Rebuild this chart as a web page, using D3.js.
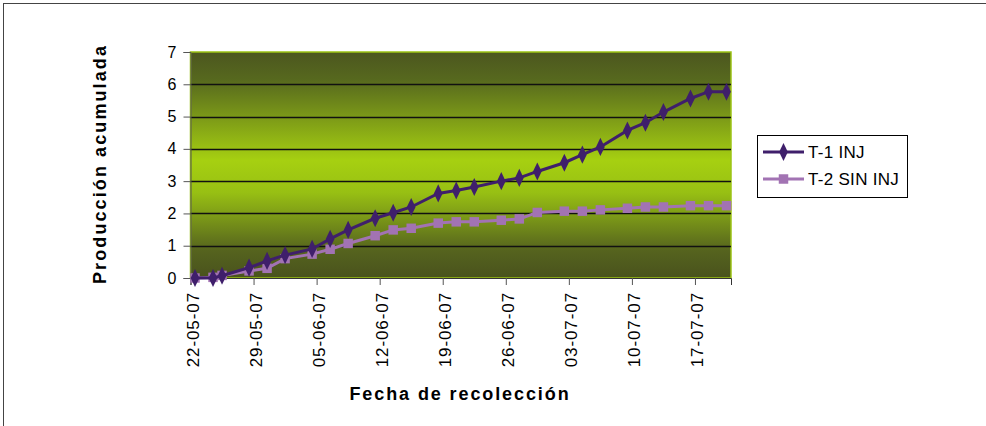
<!DOCTYPE html>
<html lang="es">
<head>
    <meta charset="UTF-8">
    <title>Producción acumulada</title>
    <script src="https://d3js.org/d3.v7.min.js"></script>
    <style>
        body { margin: 0; background: #fff; }
        svg { display: block; font-family: Arial, "Liberation Sans", sans-serif; }
    </style>
</head>
<body>
    <svg width="986" height="426" id="chart"></svg>

    <script>
        // Fechas de recolección
        const fechas = ["2007-05-22", "2007-05-24", "2007-05-25", "2007-05-28", "2007-05-30", "2007-06-01",
            "2007-06-04", "2007-06-06", "2007-06-08", "2007-06-11", "2007-06-13", "2007-06-15",
            "2007-06-18", "2007-06-20", "2007-06-22", "2007-06-25", "2007-06-27", "2007-06-29",
            "2007-07-02", "2007-07-04", "2007-07-06", "2007-07-09", "2007-07-11", "2007-07-13",
            "2007-07-16", "2007-07-18", "2007-07-20"];

        // Producción acumulada por tratamiento
        const t1Inj = [0, 0, 0.07, 0.32, 0.53, 0.71, 0.9, 1.21, 1.49, 1.85, 2.02, 2.2, 2.62, 2.71, 2.82,
            3.0, 3.1, 3.3, 3.57, 3.82, 4.06, 4.57, 4.81, 5.14, 5.56, 5.77, 5.77];
        const t2SinInj = [0, 0.02, 0.08, 0.22, 0.3, 0.6, 0.74, 0.89, 1.07, 1.31, 1.49, 1.54, 1.7, 1.74, 1.74,
            1.79, 1.83, 2.03, 2.07, 2.07, 2.11, 2.16, 2.2, 2.2, 2.24, 2.24, 2.24];

        const seriesNames = ["T-1 INJ", "T-2 SIN INJ"];
        const yTicks = [0, 1, 2, 3, 4, 5, 6, 7];
        const axisStart = "2007-05-22";
        const axisEnd = "2007-07-21";

        const parse = d3.utcParse("%Y-%m-%d");
        const fmt = d3.utcFormat("%d-%m-%y");

        const svg = d3.select("#chart");

        const plot = { left: 190.5, top: 52, right: 731, bottom: 278 };

        const x = d3.scaleUtc()
            .domain([parse(axisStart), parse(axisEnd)])
            .range([plot.left, plot.right]);
        const y = d3.scaleLinear()
            .domain([0, 7])
            .range([plot.bottom, plot.top]);

        // outer frame
        svg.append("rect")
            .attr("x", 3.5).attr("y", 3.5)
            .attr("width", 995).attr("height", 440)
            .attr("fill", "none").attr("stroke", "#444").attr("stroke-width", 1);

        // background gradient of the plot area
        const grad = svg.append("defs").append("linearGradient")
            .attr("id", "bg").attr("x1", 0).attr("y1", 0).attr("x2", 0).attr("y2", 1);
        grad.append("stop").attr("offset", "0%").attr("stop-color", "#4c561f");
        grad.append("stop").attr("offset", "12%").attr("stop-color", "#56681e");
        grad.append("stop").attr("offset", "48%").attr("stop-color", "#a6d011");
        grad.append("stop").attr("offset", "62%").attr("stop-color", "#98c013");
        grad.append("stop").attr("offset", "88%").attr("stop-color", "#55631e");
        grad.append("stop").attr("offset", "100%").attr("stop-color", "#49521d");

        svg.append("rect")
            .attr("x", plot.left).attr("y", plot.top)
            .attr("width", plot.right - plot.left).attr("height", plot.bottom - plot.top)
            .attr("fill", "url(#bg)")
            .attr("stroke", "#9cc414").attr("stroke-width", 1.5);

        // gridlines
        svg.append("g")
            .selectAll("line")
            .data(yTicks.filter(d => d > 0 && d < 7))
            .join("line")
            .attr("x1", plot.left).attr("x2", plot.right)
            .attr("y1", d => Math.round(y(d)) + 0.5).attr("y2", d => Math.round(y(d)) + 0.5)
            .attr("stroke", "#111").attr("stroke-width", 1.3);

        // y axis
        const yAxis = svg.append("g")
            .attr("transform", `translate(${plot.left},0)`)
            .call(d3.axisLeft(y).tickValues(yTicks).tickSize(7).tickPadding(7).tickFormat(d3.format("d")));
        yAxis.select(".domain").attr("stroke", "#555");
        yAxis.selectAll(".tick line").attr("stroke", "#555");
        yAxis.selectAll("text").attr("font-size", 16).attr("fill", "#000")
            .attr("font-family", "Arial, 'Liberation Sans', sans-serif");

        // x axis, one tick per week
        const weekly = d3.range(0, 9).map(i => d3.utcDay.offset(parse(axisStart), i * 7));
        const xAxis = svg.append("g")
            .attr("transform", `translate(0,${plot.bottom})`)
            .call(d3.axisBottom(x).tickValues(weekly).tickSize(7).tickFormat(fmt));
        xAxis.select(".domain").attr("stroke", "#333");
        xAxis.selectAll(".tick line").attr("stroke", "#555");
        xAxis.selectAll("text")
            .attr("font-size", 17)
            .attr("letter-spacing", 0.9)
            .attr("fill", "#000")
            .attr("font-family", "Arial, 'Liberation Sans', sans-serif")
            .attr("text-anchor", "end")
            .attr("dy", null)
            .attr("y", 0)
            .attr("transform", "translate(8,14) rotate(-90)");

        // series
        const series = [
            { name: seriesNames[0], values: t1Inj, color: "#3f1f6b", symbol: d3.symbolDiamond, size: 66 },
            { name: seriesNames[1], values: t2SinInj, color: "#a273b3", symbol: d3.symbolSquare, size: 90 }
        ];

        const px = (f) => x(d3.utcHour.offset(parse(f), 12));

        const line = d3.line()
            .x(d => px(d.f))
            .y(d => y(d.v));

        const markerTransform = (s, tx, ty) =>
            `translate(${tx},${ty})` + (s.symbol === d3.symbolDiamond ? " scale(1,1.2)" : "");

        // draw the light series first, dark one on top
        series.slice().reverse().forEach(s => {
            const pts = fechas.map((f, i) => ({ f, v: s.values[i] }));
            svg.append("path")
                .datum(pts)
                .attr("d", line)
                .attr("fill", "none")
                .attr("stroke", s.color)
                .attr("stroke-width", 3);
            svg.append("g")
                .selectAll("path")
                .data(pts)
                .join("path")
                .attr("d", d3.symbol(s.symbol, s.size))
                .attr("transform", d => markerTransform(s, px(d.f), y(d.v)))
                .attr("fill", s.color);
        });

        // legend
        const legend = svg.append("g").attr("transform", "translate(757,135)");
        legend.append("rect")
            .attr("x", 0.5).attr("y", 0.5).attr("width", 150).attr("height", 62)
            .attr("fill", "#fff").attr("stroke", "#000").attr("stroke-width", 1);
        series.forEach((s, i) => {
            const ly = 17 + i * 27;
            legend.append("line")
                .attr("x1", 6).attr("x2", 47).attr("y1", ly).attr("y2", ly)
                .attr("stroke", s.color).attr("stroke-width", 3);
            legend.append("path")
                .attr("d", d3.symbol(s.symbol, s.size)())
                .attr("transform", markerTransform(s, 26.5, ly))
                .attr("fill", s.color);
            legend.append("text")
                .attr("x", 51).attr("y", ly + 6)
                .attr("font-size", 17)
                .attr("letter-spacing", 0.3)
                .text(s.name);
        });

        // axis titles
        svg.append("text")
            .attr("transform", "translate(106,164) rotate(-90)")
            .attr("text-anchor", "middle")
            .attr("font-size", 18)
            .attr("font-weight", "bold")
            .attr("letter-spacing", 2.1)
            .text("Producción acumulada");

        svg.append("text")
            .attr("x", 460).attr("y", 400)
            .attr("text-anchor", "middle")
            .attr("font-size", 18)
            .attr("font-weight", "bold")
            .attr("letter-spacing", 1.9)
            .text("Fecha de recolección");
    </script>
</body>
</html>
